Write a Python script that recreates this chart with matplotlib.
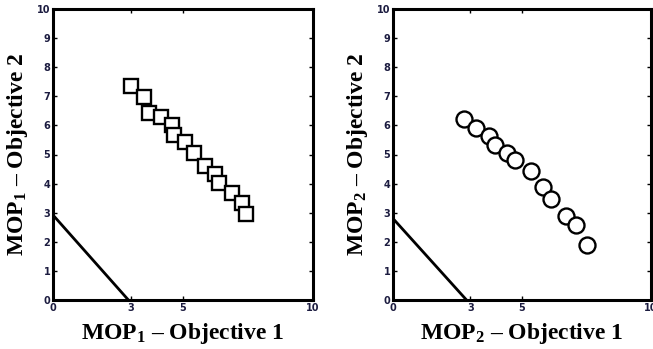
import matplotlib
matplotlib.use("Agg")
import matplotlib.pyplot as plt

plt.rcParams['mathtext.fontset'] = 'custom'
plt.rcParams['mathtext.rm'] = 'Liberation Serif:bold'
plt.rcParams['mathtext.bf'] = 'Liberation Serif:bold'
plt.rcParams['mathtext.default'] = 'bf'

# MOP1 points (squares)
mop1_x = [3.0, 3.5, 3.70, 4.15, 4.56, 4.65, 5.08, 5.43, 5.85, 6.23, 6.40, 6.90, 7.26, 7.41]
mop1_y = [7.35, 6.99, 6.44, 6.30, 6.01, 5.67, 5.44, 5.04, 4.60, 4.33, 4.01, 3.67, 3.32, 2.96]
# MOP2 points (circles)
mop2_x = [2.75, 3.23, 3.72, 3.94, 4.42, 4.72, 5.34, 5.81, 6.14, 6.72, 7.11, 7.51]
mop2_y = [6.22, 5.90, 5.63, 5.33, 5.04, 4.81, 4.44, 3.89, 3.46, 2.89, 2.58, 1.88]
# Reference lines
line1_x = [0, 2.9]
line1_y = [2.92, 0]
line2_x = [0, 2.85]
line2_y = [2.8, 0]

xticks = [0, 3, 5, 10]
yticks = list(range(0, 11))

fig = plt.figure(figsize=(6.53, 3.49), dpi=100)
ax1 = fig.add_axes([53/653, 49/349, 260/653, 291/349])
ax2 = fig.add_axes([393/653, 49/349, 258/653, 291/349])

def style(ax, n):
    ax.set_xlim(0, 10)
    ax.set_ylim(0, 10)
    ax.set_xticks(xticks)
    ax.set_yticks(yticks)
    ax.tick_params(direction='in', length=3, width=1, top=True, right=True,
                   labelsize=7, labelcolor='#1c1c40', pad=2)
    for lbl in ax.get_xticklabels() + ax.get_yticklabels():
        lbl.set_fontweight('bold')
    for s in ax.spines.values():
        s.set_linewidth(2.2)
    ax.set_xlabel(r"MOP$_{%d}$ – Objective 1" % n, fontsize=17, fontweight='bold',
                  family='Liberation Serif', labelpad=6)
    ax.set_ylabel(r"MOP$_{%d}$ – Objective 2" % n, fontsize=17, fontweight='bold',
                  family='Liberation Serif', labelpad=5)

ax1.plot(line1_x, line1_y, color='black', lw=2)
ax1.plot(mop1_x, mop1_y, linestyle='none', marker='s', markersize=10,
         markerfacecolor='white', markeredgecolor='black', markeredgewidth=1.7)
style(ax1, 1)

ax2.plot(line2_x, line2_y, color='black', lw=2)
ax2.plot(mop2_x, mop2_y, linestyle='none', marker='o', markersize=11.5,
         markerfacecolor='white', markeredgecolor='black', markeredgewidth=1.7)
style(ax2, 2)

fig.savefig("out.png", dpi=100)
